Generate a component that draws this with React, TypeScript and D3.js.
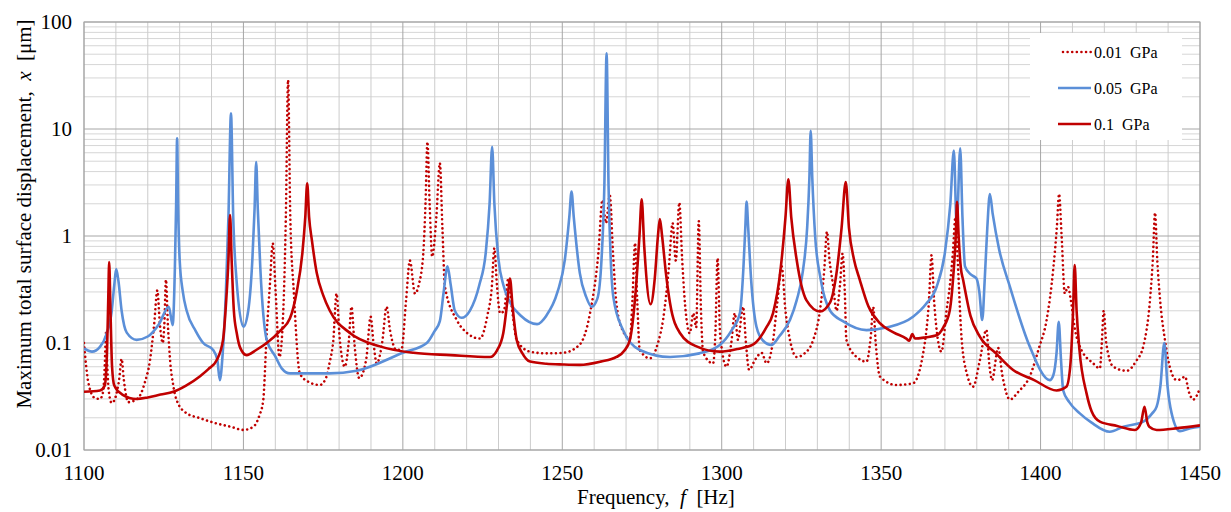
import React from 'react';
import * as d3 from 'd3';

// ---------- data ----------
const seriesNames = ['0.01  GPa', '0.05  GPa', '0.1  GPa'];

const freq001 = [1100, 1100.7, 1101.4, 1103.4, 1105, 1106, 1106.5, 1106.9, 1107.3, 1107.8, 1108.7, 1110, 1111, 1111.8, 1112.5, 1113.9, 1117, 1119, 1120.7, 1122, 1123, 1123.8, 1124.7, 1125.2, 1125.7, 1126.3, 1127, 1128, 1129.1, 1132.2, 1136, 1141.6, 1146, 1150, 1153.1, 1155, 1156.2, 1157.3, 1158.3, 1159.2, 1160.1, 1161.3, 1162.5, 1163.3, 1164, 1164.7, 1165.8, 1167.7, 1170, 1174, 1176, 1177, 1178.2, 1179.2, 1180.2, 1181.8, 1183, 1183.9, 1184.8, 1186.3, 1188.5, 1189.9, 1190.8, 1191.8, 1193.5, 1194.9, 1196, 1198, 1199.6, 1201, 1202.2, 1203.8, 1205, 1206.4, 1207.1, 1207.7, 1208.4, 1209.2, 1210.5, 1211.6, 1212.4, 1213.2, 1216.9, 1220, 1224.2, 1226.5, 1227.9, 1228.7, 1229.5, 1230.5, 1231.7, 1233, 1234.3, 1235.7, 1239.9, 1245, 1250.3, 1255.5, 1258.7, 1261.3, 1262.6, 1263.7, 1264.9, 1265.9, 1267, 1269, 1271.2, 1272, 1272.8, 1273.5, 1274.3, 1277.5, 1280, 1281.6, 1283.4, 1284.6, 1285.6, 1286.7, 1287.6, 1288.5, 1290, 1291.1, 1292, 1292.8, 1293.5, 1294.2, 1297.3, 1298, 1298.7, 1299.5, 1301.5, 1303, 1304.1, 1305.1, 1306.7, 1307.6, 1308.6, 1310.5, 1312.5, 1314.1, 1316, 1317.5, 1318.8, 1320, 1321.4, 1323.5, 1326, 1328.7, 1330.8, 1332.2, 1333, 1333.8, 1335, 1336, 1337.1, 1337.9, 1338.6, 1339.1, 1342.3, 1345.4, 1346.8, 1347.5, 1348.3, 1349.6, 1354.8, 1360, 1363.2, 1365, 1365.8, 1366.6, 1368.9, 1370.5, 1371.5, 1372.5, 1373.3, 1374, 1375.2, 1377, 1378.8, 1381, 1383, 1384, 1384.8, 1386.7, 1388, 1390.4, 1393, 1396.6, 1399.5, 1401.9, 1404, 1405.1, 1405.8, 1406.6, 1407.6, 1408.6, 1409.5, 1410.8, 1412.3, 1416.5, 1418.6, 1419.2, 1419.8, 1420.6, 1422.8, 1427, 1430, 1432.2, 1434.3, 1435.2, 1435.9, 1436.6, 1437.5, 1439, 1440.5, 1442.7, 1444, 1445.3, 1446.5, 1447.9, 1450];
const disp001 = [0.1, 0.06, 0.042, 0.0306, 0.03, 0.035, 0.06, 0.124, 0.06, 0.035, 0.0275, 0.032, 0.045, 0.071, 0.045, 0.028, 0.0306, 0.042, 0.069, 0.15, 0.31, 0.15, 0.1, 0.15, 0.39, 0.15, 0.069, 0.04, 0.029, 0.022, 0.02, 0.0177, 0.0165, 0.0154, 0.0165, 0.021, 0.029, 0.123, 0.35, 0.855, 0.3, 0.074, 0.2, 1.5, 28.7, 1.5, 0.3, 0.052, 0.044, 0.0405, 0.048, 0.065, 0.107, 0.29, 0.11, 0.06, 0.1, 0.218, 0.1, 0.047, 0.07, 0.176, 0.1, 0.0645, 0.1, 0.218, 0.13, 0.086, 0.088, 0.25, 0.59, 0.29, 0.35, 0.685, 2, 7.6, 2, 0.64, 1.5, 4.8, 1.2, 0.335, 0.164, 0.125, 0.11, 0.18, 0.335, 0.77, 0.35, 0.19, 0.2, 0.39, 0.2, 0.107, 0.083, 0.08, 0.081, 0.097, 0.19, 0.685, 2.17, 1.32, 2.4, 0.7, 0.23, 0.13, 0.11, 0.25, 0.86, 0.25, 0.086, 0.072, 0.1, 0.164, 0.5, 1.32, 0.59, 2.05, 0.6, 0.23, 0.123, 0.19, 0.14, 1.38, 0.2, 0.081, 0.0645, 0.12, 0.62, 0.12, 0.06, 0.1, 0.19, 0.107, 0.218, 0.1, 0.056, 0.07, 0.081, 0.0645, 0.1, 0.25, 0.52, 0.2, 0.107, 0.074, 0.08, 0.107, 0.2, 0.5, 1.1, 0.6, 0.335, 0.2, 0.35, 0.685, 0.3, 0.107, 0.074, 0.067, 0.12, 0.218, 0.1, 0.0486, 0.0405, 0.042, 0.081, 0.25, 0.66, 0.25, 0.083, 0.2, 0.335, 0.7, 1.5, 0.6, 0.114, 0.05, 0.039, 0.07, 0.133, 0.06, 0.045, 0.09, 0.05, 0.0296, 0.035, 0.0486, 0.09, 0.164, 0.5, 1.2, 2.47, 1.0, 0.29, 0.335, 0.25, 0.133, 0.093, 0.0645, 0.058, 0.1, 0.2, 0.1, 0.06, 0.055, 0.068, 0.093, 0.25, 0.6, 1.65, 0.6, 0.25, 0.107, 0.06, 0.045, 0.046, 0.0486, 0.035, 0.0296, 0.038];

const freq005 = [1100, 1102.5, 1105, 1107, 1108.7, 1109.5, 1110.1, 1110.8, 1111.8, 1113.4, 1116.5, 1120, 1123.5, 1126.6, 1127.8, 1128.5, 1128.9, 1129.2, 1129.5, 1130, 1131, 1132.2, 1135, 1137.4, 1140.5, 1141.8, 1142.6, 1143.5, 1144.5, 1145.3, 1146.1, 1146.8, 1147.8, 1150, 1151.5, 1152.8, 1153.5, 1154, 1154.5, 1155.3, 1157.3, 1160, 1162, 1164.6, 1177, 1185.5, 1200, 1207.5, 1210, 1211.6, 1212.8, 1214, 1215, 1216.3, 1218.4, 1221, 1224, 1226, 1227.2, 1228, 1228.7, 1230, 1231.5, 1233.6, 1237, 1242.1, 1245, 1248.5, 1250.8, 1252.2, 1252.9, 1253.6, 1255.5, 1257.5, 1259.2, 1261, 1262.3, 1263.2, 1263.9, 1264.5, 1265.2, 1266, 1269, 1274.3, 1283.8, 1293, 1299.4, 1303, 1305.7, 1306.8, 1307.4, 1307.8, 1308.3, 1309.2, 1310.9, 1313, 1315.6, 1318, 1321.4, 1323.5, 1325.5, 1326.8, 1327.5, 1327.9, 1328.4, 1329.3, 1331, 1334, 1338, 1345.4, 1352, 1360, 1364, 1367.4, 1370, 1371.7, 1372.8, 1373.7, 1374.8, 1375.5, 1376.3, 1378, 1379.9, 1380.8, 1381.7, 1382.5, 1383.3, 1384.1, 1385, 1387, 1390.4, 1396.6, 1402.9, 1404, 1405, 1405.7, 1406.4, 1407.1, 1409, 1412.3, 1416, 1421.7, 1426, 1432.2, 1435, 1436.4, 1437.6, 1438.8, 1439.8, 1441.1, 1443.7, 1447, 1450];
const disp005 = [0.089, 0.083, 0.092, 0.12, 0.2, 0.35, 0.49, 0.38, 0.2, 0.125, 0.107, 0.115, 0.15, 0.218, 0.147, 0.5, 2.0, 8.2, 2.0, 0.6, 0.3, 0.2, 0.13, 0.1, 0.086, 0.07, 0.045, 0.08, 0.3, 1.5, 14, 1.5, 0.4, 0.142, 0.2, 0.6, 1.8, 4.9, 1.8, 0.5, 0.107, 0.075, 0.058, 0.052, 0.052, 0.055, 0.081, 0.1, 0.13, 0.16, 0.3, 0.52, 0.35, 0.2, 0.172, 0.2, 0.35, 0.7, 2, 6.8, 2, 0.6, 0.35, 0.24, 0.18, 0.15, 0.18, 0.3, 0.6, 1.5, 2.6, 1.5, 0.45, 0.27, 0.218, 0.26, 0.6, 3, 51, 3, 0.6, 0.27, 0.133, 0.086, 0.074, 0.08, 0.096, 0.13, 0.19, 0.5, 1.2, 2.1, 1.2, 0.4, 0.142, 0.105, 0.096, 0.115, 0.164, 0.25, 0.48, 1.2, 3.5, 9.6, 3.5, 1, 0.4, 0.2, 0.16, 0.132, 0.14, 0.176, 0.23, 0.335, 0.7, 2, 6.3, 1.23, 6.6, 1.5, 0.52, 0.44, 0.4, 0.3, 0.164, 0.4, 1.2, 2.47, 1.6, 0.75, 0.335, 0.093, 0.045, 0.05, 0.08, 0.158, 0.07, 0.036, 0.028, 0.022, 0.018, 0.0148, 0.0165, 0.0184, 0.022, 0.0254, 0.04, 0.1, 0.04, 0.022, 0.015, 0.016, 0.0165];

const freq01 = [1100, 1105, 1106.5, 1107.2, 1107.6, 1107.9, 1108.3, 1108.8, 1109.5, 1112, 1116.5, 1120, 1124, 1128, 1132, 1136.4, 1139, 1141.6, 1143.6, 1144.6, 1145.3, 1145.8, 1146.3, 1147, 1147.9, 1149, 1151, 1154, 1157.3, 1161.5, 1164.6, 1166.7, 1168.5, 1169.4, 1170, 1170.6, 1171.5, 1173, 1175, 1177.1, 1183.4, 1192.8, 1203.3, 1215, 1227.3, 1229.5, 1231.5, 1232.8, 1233.6, 1234.4, 1235.7, 1237.5, 1239.9, 1245, 1250.3, 1255.5, 1262, 1267, 1269.5, 1271.2, 1273, 1274.2, 1274.9, 1275.7, 1277.7, 1279, 1280, 1280.6, 1281.3, 1282.5, 1283.8, 1286.9, 1292.1, 1299.4, 1305, 1309.9, 1314, 1316.1, 1318.5, 1320, 1320.9, 1321.8, 1323.5, 1326.6, 1330.8, 1334, 1336, 1337.6, 1338.9, 1339.9, 1341.5, 1343.3, 1346, 1349.6, 1354, 1357.9, 1358.8, 1359.8, 1360.6, 1364, 1367.4, 1369.5, 1371.5, 1372.8, 1373.4, 1373.8, 1374.3, 1375, 1375.7, 1378, 1381, 1386, 1391.4, 1398, 1405, 1408.1, 1409.3, 1410.2, 1410.7, 1411.3, 1412.2, 1414.4, 1416, 1418.6, 1424, 1429.6, 1431.5, 1432.6, 1433.5, 1434.1, 1436.4, 1443, 1450];
const disp01 = [0.035, 0.036, 0.04, 0.08, 0.25, 0.57, 0.2, 0.06, 0.04, 0.033, 0.03, 0.031, 0.033, 0.035, 0.04, 0.049, 0.057, 0.069, 0.107, 0.25, 0.6, 1.57, 0.6, 0.2, 0.124, 0.09, 0.077, 0.086, 0.1, 0.13, 0.17, 0.3, 0.7, 1.5, 3.1, 1.5, 0.9, 0.45, 0.28, 0.2, 0.124, 0.093, 0.081, 0.077, 0.074, 0.085, 0.124, 0.25, 0.4, 0.22, 0.107, 0.08, 0.067, 0.064, 0.063, 0.0625, 0.067, 0.074, 0.085, 0.107, 0.3, 1, 2.2, 0.8, 0.23, 0.4, 1, 1.44, 1, 0.45, 0.235, 0.124, 0.093, 0.083, 0.088, 0.097, 0.14, 0.19, 0.5, 1.5, 3.39, 1.5, 0.6, 0.25, 0.197, 0.24, 0.45, 1.2, 3.2, 1.2, 0.6, 0.39, 0.22, 0.153, 0.125, 0.11, 0.105, 0.121, 0.11, 0.113, 0.118, 0.14, 0.2, 0.5, 1, 2.09, 1, 0.5, 0.39, 0.18, 0.114, 0.08, 0.056, 0.045, 0.036, 0.039, 0.06, 0.2, 0.535, 0.2, 0.086, 0.034, 0.023, 0.0184, 0.0168, 0.0154, 0.018, 0.0254, 0.018, 0.0165, 0.0154, 0.016, 0.017];

const xTicks = [1100, 1150, 1200, 1250, 1300, 1350, 1400, 1450];
const yTicks = [0.01, 0.1, 1, 10, 100];
const yTickLabels = ['0.01', '0.1', '1', '10', '100'];

// ---------- layout ----------
const W = 1231, H = 512;
const L = 84, R = 1200, T = 22, B = 450;
const FONT = '"Liberation Serif", "Times New Roman", serif';
const RED = '#C00000';
const BLUE = '#5B8FD8';

export default function App() {
  const x = d3.scaleLinear().domain([1100, 1450]).range([L, R]);
  const y = d3.scaleLog().domain([0.01, 100]).range([B, T]);

  const mk = (fs: number[], vs: number[]) =>
    d3.line<number>()
      .x((_, i) => x(fs[i]))
      .y((_, i) => y(vs[i]))
      .curve(d3.curveMonotoneX)(fs) || '';

  const minorX = d3.range(1100, 1451, 10).filter((v) => v % 50 !== 0);
  const minorY: number[] = [];
  [0.01, 0.1, 1, 10].forEach((d) => {
    for (let k = 2; k <= 9; k++) minorY.push(d * k);
  });

  const series = [
    { name: seriesNames[0], path: mk(freq001, disp001), color: RED, dash: '0.01 4.6', cap: 'round' as const },
    { name: seriesNames[1], path: mk(freq005, disp005), color: BLUE, dash: undefined, cap: 'butt' as const },
    { name: seriesNames[2], path: mk(freq01, disp01), color: RED, dash: undefined, cap: 'butt' as const },
  ];

  const legX = 1030, legY = 33, legW = 152, legH = 107;

  return (
    <svg width={W} height={H} style={{ position: 'absolute', left: 0, top: 0, background: '#fff' }}
      fontFamily={FONT}>
      <rect x={0} y={0} width={W} height={H} fill="#fff" />
      {/* minor gridlines */}
      {minorY.map((v) => (
        <line key={'my' + v} x1={L} x2={R} y1={y(v)} y2={y(v)} stroke="#d6d6d6" strokeWidth={1} />
      ))}
      {minorX.map((v) => (
        <line key={'mx' + v} x1={x(v)} x2={x(v)} y1={T} y2={B} stroke="#cccccc" strokeWidth={1} />
      ))}
      {/* major gridlines */}
      {yTicks.map((v) => (
        <line key={'gy' + v} x1={L} x2={R} y1={y(v)} y2={y(v)} stroke="#a6a6a6" strokeWidth={1} />
      ))}
      {xTicks.map((v) => (
        <line key={'gx' + v} x1={x(v)} x2={x(v)} y1={T} y2={B} stroke="#a6a6a6" strokeWidth={1} />
      ))}
      <rect x={L} y={T} width={R - L} height={B - T} fill="none" stroke="#a6a6a6" strokeWidth={1} />

      {/* legend background */}
      <rect x={legX} y={legY} width={legW} height={legH} fill="#fff" />

      {/* series */}
      <defs>
        <clipPath id="clip">
          <rect x={L} y={T - 2} width={R - L} height={B - T + 4} />
        </clipPath>
      </defs>
      <g clipPath="url(#clip)">
        {series.map((s) => (
          <path key={s.name} d={s.path} fill="none" stroke={s.color} strokeWidth={2.6}
            strokeDasharray={s.dash} strokeLinecap={s.cap} strokeLinejoin="round" />
        ))}
      </g>

      {/* legend entries */}
      {series.map((s, i) => {
        const ly = legY + 19 + i * 36;
        return (
          <g key={'lg' + i}>
            <line x1={i === 0 ? legX + 33 : legX + 28} x2={legX + 61} y1={ly} y2={ly} stroke={s.color} strokeWidth={2.6}
              strokeDasharray={s.dash} strokeLinecap={s.cap} />
            <text x={legX + 64} y={ly + 5.5} fontSize={16} fill="#000" style={{ whiteSpace: 'pre' }}>{s.name}</text>
          </g>
        );
      })}

      {/* y tick labels */}
      {yTicks.map((v, i) => (
        <text key={'yl' + v} x={L - 12} y={y(v) + 7} fontSize={21} textAnchor="end" fill="#000">{yTickLabels[i]}</text>
      ))}
      {/* x tick labels */}
      {xTicks.map((v) => (
        <text key={'xl' + v} x={x(v)} y={480} fontSize={21} textAnchor="middle" fill="#000">{v}</text>
      ))}

      {/* axis titles */}
      <text x={577} y={504} fontSize={21} textAnchor="start" fill="#000" style={{ whiteSpace: 'pre' }}>
        {'Frequency,  '}<tspan fontStyle="italic">f</tspan>{'  [Hz]'}
      </text>
      <text transform={`translate(31, 214) rotate(-90)`} fontSize={21} textAnchor="middle" fill="#000"
        style={{ whiteSpace: 'pre' }}>
        {'Maximum total surface displacement,  '}<tspan fontStyle="italic">x</tspan>{'  [μm]'}
      </text>
    </svg>
  );
}
